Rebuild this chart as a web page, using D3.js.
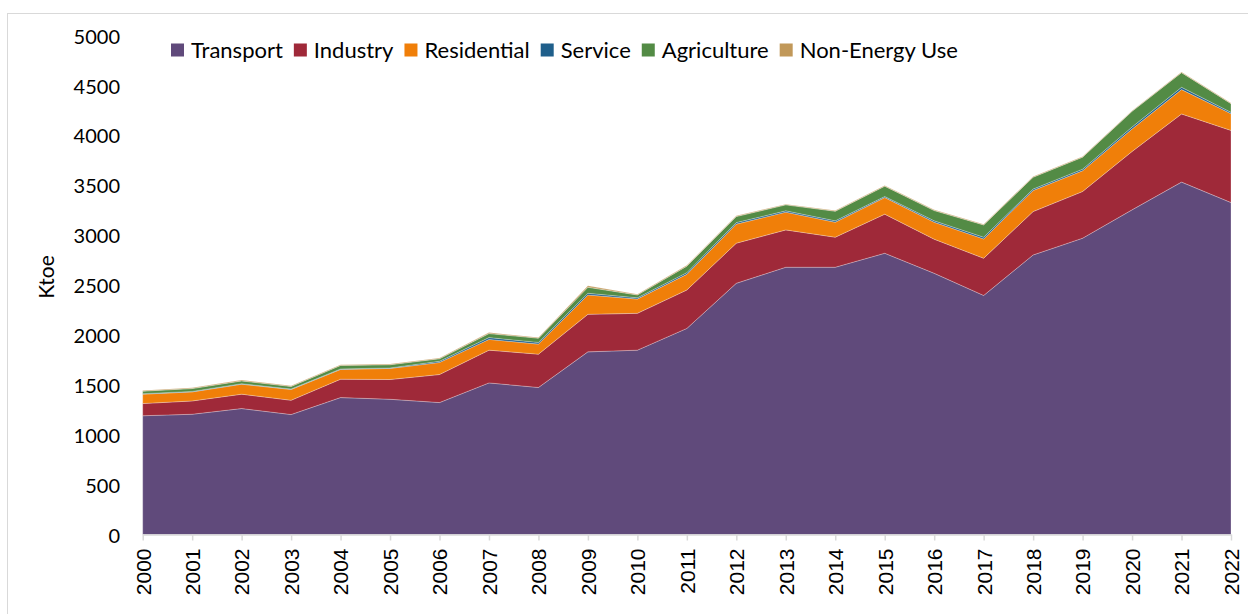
<!DOCTYPE html>
<html>
<head>
	<meta charset="utf-8">
	<script src="https://cdn.jsdelivr.net/npm/d3@7"></script>
	<style type="text/css">
		body { margin: 0; padding: 0; background: #fff; }
		svg text { fill: #000; }
	</style>
</head>
<body>
	<script type="text/javascript">

		// chart data (ktoe)
		var years = [2000, 2001, 2002, 2003, 2004, 2005, 2006, 2007, 2008, 2009, 2010, 2011,
			2012, 2013, 2014, 2015, 2016, 2017, 2018, 2019, 2020, 2021, 2022];
		var series = ["Transport", "Industry", "Residential", "Service", "Agriculture", "Non-Energy Use"];
		var colors = ["#604a7b", "#9f2939", "#f07f09", "#1f5f8b", "#538b45", "#c19859"];

		var transport   = [1190, 1205, 1262, 1202, 1372, 1355, 1322, 1519, 1473, 1830, 1847, 2065, 2517, 2678, 2678, 2818, 2617, 2395, 2801, 2969, 3253, 3531, 3326];
		var industry    = [122, 133, 144, 143, 184, 198, 281, 328, 334, 376, 369, 385, 402, 374, 301, 392, 342, 373, 435, 468, 585, 683, 723];
		var residential = [94, 91, 100, 108, 98, 111, 121, 108, 101, 194, 143, 157, 191, 178, 150, 166, 170, 194, 211, 208, 225, 244, 168];
		var service     = [5, 5, 5, 5, 5, 5, 12, 18, 17, 17, 13, 17, 16, 13, 14, 11, 14, 17, 14, 16, 20, 23, 13];
		var agriculture = [25, 28, 28, 25, 35, 32, 25, 40, 42, 60, 28, 65, 60, 60, 96, 103, 103, 123, 119, 120, 157, 147, 87];
		var nonEnergy   = [8, 8, 8, 8, 8, 8, 8, 10, 8, 15, 7, 8, 7, 7, 7, 7, 7, 7, 7, 7, 7, 7, 7];

		var yTicks = [0, 500, 1000, 1500, 2000, 2500, 3000, 3500, 4000, 4500, 5000];

		// table for the stack
		var valuesBySeries = [transport, industry, residential, service, agriculture, nonEnergy];
		var table = years.map(function(y, i){
			var row = { year: y };
			series.forEach(function(s, j){ row[s] = valuesBySeries[j][i]; });
			return row;
		});

		var width = 1248, height = 614;
		var svg = d3.select("body").append("svg")
			.attr("width", width)
			.attr("height", height);

		// outer frame
		svg.append("rect")
			.attr("x", 7.5).attr("y", 13.5)
			.attr("width", 1260).attr("height", 640)
			.attr("fill", "none")
			.attr("stroke", "#d9d9d9")
			.attr("stroke-width", 1);

		var x = d3.scaleLinear().domain([2000, 2022]).range([142.7, 1231]);
		var y = d3.scaleLinear().domain([0, 5000]).range([534.5, 35.5]);

		var stacked = d3.stack().keys(series)(table);

		var area = d3.area()
			.x(function(d){ return x(d.data.year); })
			.y0(function(d){ return y(d[0]); })
			.y1(function(d){ return y(d[1]); });

		svg.append("g").selectAll("path")
			.data(stacked)
			.enter().append("path")
			.attr("d", area)
			.attr("fill", function(d, i){ return colors[i]; })
			.attr("stroke", "rgba(255,255,255,0.35)")
			.attr("stroke-width", 0.75);

		// y axis (labels only)
		var yAxis = svg.append("g")
			.attr("transform", "translate(120,0)")
			.call(d3.axisLeft(y).tickValues(yTicks).tickFormat(d3.format("d")).tickSize(0).tickPadding(0));
		yAxis.select(".domain").remove();
		yAxis.selectAll("text")
			.attr("dy", "0.38em")
			.style("font-family", "Lato, 'Open Sans', sans-serif")
			.style("font-size", "20px");

		// x axis
		var xAxis = svg.append("g")
			.attr("transform", "translate(0,534.5)")
			.call(d3.axisBottom(x).tickValues(years).tickFormat(d3.format("d")).tickSize(6).tickSizeOuter(0));
		xAxis.select(".domain").attr("stroke", "#d9d9d9").attr("stroke-width", 1.5);
		xAxis.selectAll(".tick line").attr("stroke", "#d9d9d9").attr("stroke-width", 1.5);
		xAxis.selectAll("text")
			.attr("transform", "rotate(-90)")
			.attr("x", -14)
			.attr("y", 0)
			.attr("dy", "0.35em")
			.attr("text-anchor", "end")
			.style("font-family", "'Liberation Sans', Arial, sans-serif")
			.style("font-size", "21px");

		// y title
		svg.append("text")
			.attr("transform", "translate(54,277) rotate(-90)")
			.attr("text-anchor", "middle")
			.style("font-family", "Lato, 'Open Sans', sans-serif")
			.style("font-size", "21px")
			.text("Ktoe");

		// legend
		var legend = svg.append("g").attr("transform", "translate(171,50)");
		var lx = 0;
		series.forEach(function(s, i){
			var item = legend.append("g").attr("transform", "translate(" + lx + ",0)");
			item.append("rect")
				.attr("x", 0).attr("y", -6.5)
				.attr("width", 13).attr("height", 13)
				.attr("fill", colors[i]);
			var t = item.append("text")
				.attr("x", 20).attr("y", 0)
				.attr("dy", "0.36em")
				.style("font-family", "Lato, 'Open Sans', sans-serif")
				.style("font-size", "22px")
				.text(s);
			lx += 20 + t.node().getComputedTextLength() + 11;
		});

	</script>
</body>
</html>
